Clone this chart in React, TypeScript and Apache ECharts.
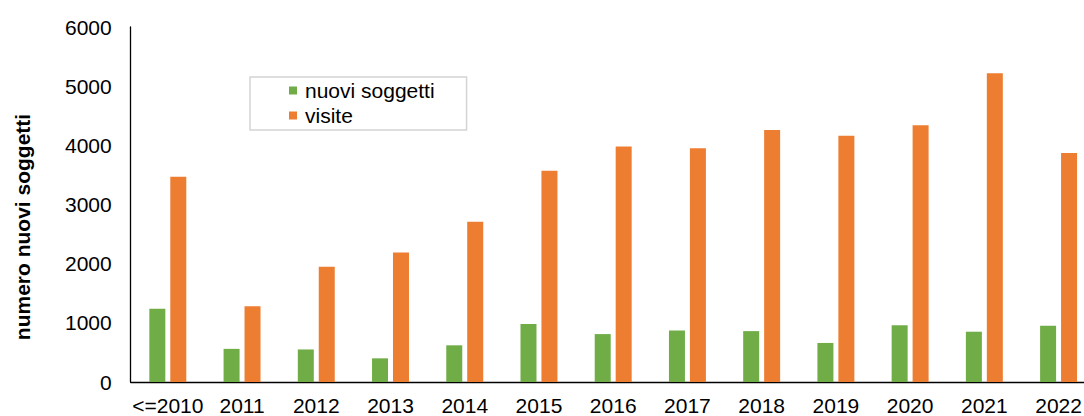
import React, { useEffect, useRef } from "react";
import * as echarts from "echarts";

const categories = ["<=2010", "2011", "2012", "2013", "2014", "2015", "2016", "2017", "2018", "2019", "2020", "2021", "2022"];
const nuoviSoggetti = [1240, 560, 550, 400, 620, 980, 810, 870, 860, 660, 960, 850, 950];
const visite = [3470, 1280, 1950, 2190, 2710, 3570, 3980, 3950, 4260, 4160, 4340, 5220, 3870];
const yTitle = "numero nuovi soggetti";
const seriesNames = ["nuovi soggetti", "visite"];

const FONT = "'Liberation Sans', Arial, sans-serif";

export default function App() {
  const ref = useRef<HTMLDivElement>(null);
  useEffect(() => {
    if (!ref.current) return;
    const chart = echarts.init(ref.current, undefined, { renderer: "svg" });
    chart.setOption({
      animation: false,
      backgroundColor: "#fff",
      textStyle: { fontFamily: FONT },
      grid: {
        left: 130.7,
        top: 27,
        width: 965,
        height: 355,
        containLabel: false,
        outerBoundsMode: "none",
      },
      legend: {
        left: 250,
        top: 77,
        orient: "vertical",
        padding: [3, 32, 4, 39],
        itemGap: 4,
        itemWidth: 8,
        itemHeight: 8,
        icon: "rect",
        borderColor: "#d4d4d4",
        borderWidth: 1.5,
        textStyle: { fontSize: 21, color: "#000", fontFamily: FONT, padding: [0, 0, 0, 3] },
        data: seriesNames,
      },
      xAxis: {
        type: "category",
        data: categories,
        axisLine: { lineStyle: { color: "#000", width: 1.3 } },
        axisTick: { show: false },
        axisLabel: { color: "#000", fontSize: 21, margin: 13, interval: 0, fontFamily: FONT },
        splitLine: { show: false },
      },
      yAxis: {
        type: "value",
        min: 0,
        max: 6000,
        interval: 1000,
        axisLine: { show: true, lineStyle: { color: "#000", width: 1.3 } },
        axisTick: { show: false },
        axisLabel: {
          color: "#000",
          fontSize: 21,
          margin: 19,
          fontFamily: FONT,
          formatter: (v: number) => String(v),
        },
        splitLine: { show: false },
      },
      graphic: [
        {
          type: "text",
          x: 22,
          y: 227,
          rotation: Math.PI / 2,
          style: {
            text: yTitle,
            font: `bold 21px ${FONT}`,
            fill: "#000",
            align: "center",
            verticalAlign: "middle",
          },
        },
      ],
      series: [
        {
          name: seriesNames[0],
          type: "bar",
          data: nuoviSoggetti,
          barWidth: 16,
          barGap: "31%",
          itemStyle: { color: "#70AD47" },
        },
        {
          name: seriesNames[1],
          type: "bar",
          data: visite,
          barWidth: 16,
          barGap: "31%",
          itemStyle: { color: "#ED7D31" },
        },
      ],
    });
    return () => chart.dispose();
  }, []);
  return (
    <div
      ref={ref}
      style={{ position: "fixed", left: 0, top: 0, width: 1084, height: 416 }}
    />
  );
}
